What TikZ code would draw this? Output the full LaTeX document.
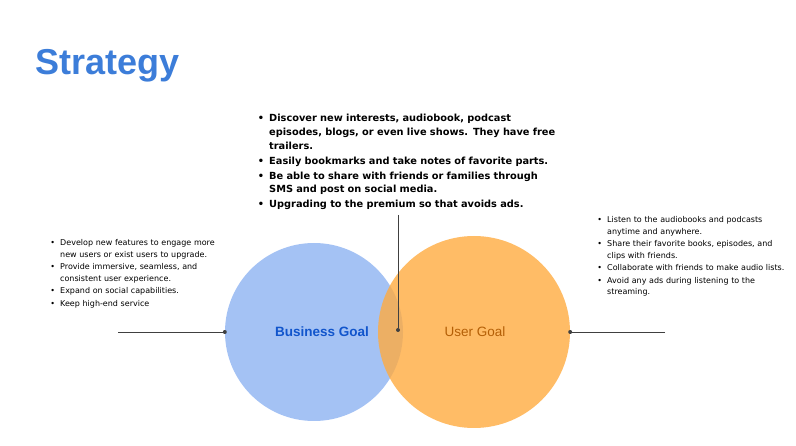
\documentclass[tikz,border=0pt]{standalone}
\usepackage{fontspec}
\setmainfont{DejaVu Sans}
\newfontfamily\titlefont{Liberation Sans}
\usepackage{enumitem}
\setlist[itemize]{leftmargin=22pt,label=\textbullet,itemsep=1pt,topsep=0pt,parsep=0pt,partopsep=0pt}
\definecolor{titleblue}{HTML}{3C7DD9}
\definecolor{bizfill}{HTML}{A4C2F4}
\definecolor{userfill}{HTML}{FFAB40}
\definecolor{biztext}{HTML}{1155CC}
\definecolor{usertext}{HTML}{B45F06}
\tikzset{
  goal/.style={circle,minimum size=178pt,inner sep=0pt},
  notes/.style={align=left,inner sep=0pt,anchor=north west},
  link/.style={draw=black!75,line width=0.8pt},
  dot/.style={circle,fill=black!75,inner sep=0pt,minimum size=4pt}
}
\begin{document}
\begin{tikzpicture}[x=1pt,y=-1pt]
    \useasboundingbox (0,0) rectangle (796,446);
    \node[anchor=west,inner sep=0pt] (title) at (35,66) {\titlefont\fontsize{36}{40}\selectfont\bfseries\color{titleblue}Strategy};

    \node[goal,fill=bizfill] (biz) at (314,332) {};
    \node[goal,fill=userfill,fill opacity=0.8,minimum size=192pt] (user) at (474,332) {};
    \node[font=\fontsize{13.5}{16}\selectfont\bfseries\titlefont,text=biztext] (bizlabel) at (322,332) {Business Goal};
    \node[font=\fontsize{13.5}{16}\selectfont\titlefont,text=usertext] (userlabel) at (475,332) {User Goal};

    % connectors
    \node[dot] (ldot) at (biz.west) {};
    \node[dot] (rdot) at (user.east) {};
    \node[dot] (cdot) at (398,330) {};
    \coordinate (lend) at (118,332);
    \coordinate (rend) at (665,332);
    \coordinate (cend) at (398,215);
    \draw[link] (lend) -- (ldot);
    \draw[link] (rend) -- (rdot);
    \draw[link] (cend) -- (cdot);

    % text blocks
    \node[notes,text width=312pt,font=\fontsize{9.8}{13.7}\selectfont\bfseries] (topnotes) at (247,108) {%
      \begin{itemize}[itemsep=1.2pt]
      \item Discover new interests, audiobook, podcast episodes, blogs, or even live shows. They have free trailers.
      \item Easily bookmarks and take notes of favorite parts.
      \item Be able to share with friends or families through SMS and post on social media.
      \item Upgrading to the premium so that avoids ads.
      \end{itemize}};
    \node[notes,text width=182pt,font=\fontsize{8}{11.5}\selectfont] (leftnotes) at (38,234) {%
      \begin{itemize}
      \item Develop new features to engage more new users or exist users to upgrade.
      \item Provide immersive, seamless, and consistent user experience.
      \item Expand on social capabilities.
      \item Keep high-end service
      \end{itemize}};
    \node[notes,text width=200pt,font=\fontsize{8}{11.5}\selectfont] (rightnotes) at (585,211) {%
      \begin{itemize}
      \item Listen to the audiobooks and podcasts anytime and anywhere.
      \item Share their favorite books, episodes, and clips with friends.
      \item Collaborate with friends to make audio lists.
      \item Avoid any ads during listening to the streaming.
      \end{itemize}};
\end{tikzpicture}
\end{document}
